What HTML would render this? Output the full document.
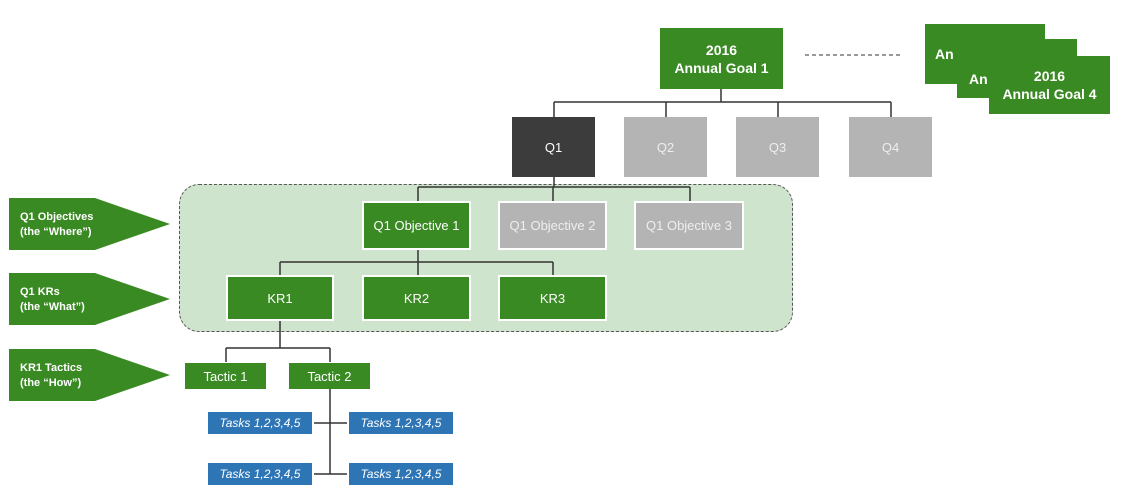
<!DOCTYPE html>
<html><head><style>
body{margin:0;width:1129px;height:493px;background:#fff;position:relative;overflow:hidden;font-family:"Liberation Sans",sans-serif}
.b{position:absolute;display:flex;align-items:center;justify-content:center;color:#fff;font-size:13px;text-align:center;box-sizing:border-box}
.g{background:#3a8a24}
.gr{background:#b4b4b4;color:#eee}
.w{border:2px solid #fff}
.t{background:#2e75b6;font-style:italic;font-size:12px}
.hd{font-weight:bold;font-size:14px;line-height:18px}
</style></head><body>
<div style="position:absolute;left:179px;top:184px;width:614px;height:148px;background:#cfe4cc;border:1px dashed #555;border-radius:20px;box-sizing:border-box"></div>
<svg width="1129" height="493" style="position:absolute;left:0;top:0">
<g stroke="#333" stroke-width="1.5" fill="none">
<path d="M721 89V102M554 102H891M554 102V117M666 102V117M778 102V117M891 102V117"/>
<path d="M554 177V187M418 187H690M418 187V201M553 187V201M690 187V201"/>
<path d="M418 250V262M280 262H553M280 262V275M418 262V275M553 262V275"/>
<path d="M280 321V348M226 348H330M226 348V362M330 348V362"/>
<path d="M330 389V474M314 423H347M314 474H347"/>
<path d="M805 55H903" stroke-dasharray="4,3" stroke-width="1"/>
</g>
<g fill="#3a8a24">
<polygon points="9,198 95,198 170,224 95,250 9,250"/>
<polygon points="9,273 95,273 170,299 95,325 9,325"/>
<polygon points="9,349 95,349 170,375 95,401 9,401"/>
</g>
<g fill="#fff" font-family="Liberation Sans" font-weight="bold" font-size="11">
<text x="20" y="220">Q1 Objectives</text><text x="20" y="235">(the “Where”)</text>
<text x="20" y="295">Q1 KRs</text><text x="20" y="310">(the “What”)</text>
<text x="20" y="371">KR1 Tactics</text><text x="20" y="386">(the “How”)</text>
</g>
</svg>
<div class="b g hd" style="left:660px;top:28px;width:123px;height:61px">2016<br>Annual Goal 1</div>
<div class="b g hd" style="left:925px;top:24px;width:120px;height:60px;justify-content:flex-start;padding-left:10px">An</div>
<div class="b g hd" style="left:957px;top:39px;width:120px;height:59px;justify-content:flex-start;padding-left:12px;padding-top:20px">An</div>
<div class="b g hd" style="left:989px;top:56px;width:121px;height:58px">2016<br>Annual Goal 4</div>
<div class="b" style="left:512px;top:117px;width:83px;height:60px;background:#3c3c3c">Q1</div>
<div class="b gr" style="left:624px;top:117px;width:83px;height:60px">Q2</div>
<div class="b gr" style="left:736px;top:117px;width:83px;height:60px">Q3</div>
<div class="b gr" style="left:849px;top:117px;width:83px;height:60px">Q4</div>
<div class="b g w" style="left:362px;top:201px;width:109px;height:49px">Q1 Objective 1</div>
<div class="b gr w" style="left:498px;top:201px;width:109px;height:49px">Q1 Objective 2</div>
<div class="b gr w" style="left:634px;top:201px;width:110px;height:49px">Q1 Objective 3</div>
<div class="b g w" style="left:226px;top:275px;width:108px;height:46px">KR1</div>
<div class="b g w" style="left:362px;top:275px;width:109px;height:46px">KR2</div>
<div class="b g w" style="left:498px;top:275px;width:109px;height:46px">KR3</div>
<div class="b g" style="left:185px;top:363px;width:81px;height:26px">Tactic 1</div>
<div class="b g" style="left:289px;top:363px;width:81px;height:26px">Tactic 2</div>
<div class="b t" style="left:208px;top:412px;width:104px;height:22px">Tasks 1,2,3,4,5</div>
<div class="b t" style="left:349px;top:412px;width:104px;height:22px">Tasks 1,2,3,4,5</div>
<div class="b t" style="left:208px;top:463px;width:104px;height:22px">Tasks 1,2,3,4,5</div>
<div class="b t" style="left:349px;top:463px;width:104px;height:22px">Tasks 1,2,3,4,5</div>
</body></html>
